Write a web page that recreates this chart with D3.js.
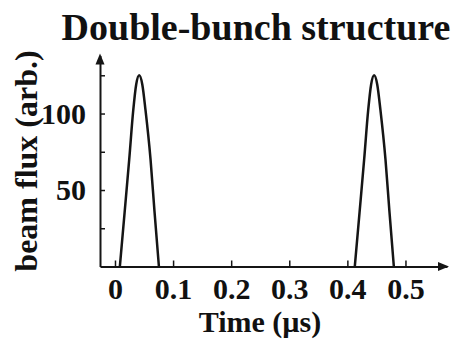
<!DOCTYPE html>
<html>
<head>
<meta charset="utf-8">
<script src="https://cdn.jsdelivr.net/npm/d3@7"></script>
<style>
  html, body { margin: 0; padding: 0; background: #fff; }
  svg { display: block; }
  text { font-family: "Liberation Serif", "Times New Roman", serif; font-weight: bold; fill: #111; }
</style>
</head>
<body>
<svg id="chart" width="464" height="341"></svg>
<script>
// Time samples (µs) and beam flux (arb.) for the two bunches
const bunch1Time = [0.0084, 0.0165, 0.0245, 0.0314, 0.0365, 0.0417, 0.0470, 0.0526, 0.0612, 0.0680, 0.0756];
const bunch1Flux = [0, 35, 70, 102, 119, 125, 119, 102, 70, 36, 0];
const bunch2Time = [0.4128, 0.4209, 0.4289, 0.4358, 0.4409, 0.4461, 0.4514, 0.4570, 0.4656, 0.4724, 0.4800];
const bunch2Flux = [0, 35, 70, 102, 119, 125, 119, 102, 70, 36, 0];

// Axis ticks
const xTicks = [0, 0.1, 0.2, 0.3, 0.4, 0.5];
const yTicks = [25, 50, 75, 100, 125];
const yLabelled = [50, 100];

const title = "Double-bunch structure";
const xTitle = "Time (µs)";
const yTitle = "beam flux (arb.)";

const svg = d3.select("#chart");

const x = d3.scaleLinear().domain([-0.0258, 0.5715]).range([100, 447]);
const y = d3.scaleLinear().domain([0, 138]).range([266.5, 55.4]);

const ink = "#151515";

// x axis
const gx = svg.append("g")
  .attr("transform", `translate(0,${y(0)})`)
  .call(d3.axisBottom(x)
    .tickValues(xTicks)
    .tickSizeInner(-6)
    .tickSizeOuter(0)
    .tickPadding(11)
    .tickFormat(d3.format("")));
gx.select(".domain").attr("stroke", ink).attr("stroke-width", 2);
gx.selectAll(".tick line").attr("stroke", ink).attr("stroke-width", 1.5);
gx.selectAll(".tick text").attr("font-size", 30).attr("fill", ink)
  .style("font-family", "'Liberation Serif', serif").style("font-weight", "bold");

// y axis
const gy = svg.append("g")
  .attr("transform", `translate(${x.range()[0]},0)`)
  .call(d3.axisLeft(y)
    .tickValues(yTicks)
    .tickSizeInner(-5)
    .tickSizeOuter(0)
    .tickPadding(14)
    .tickFormat(d => yLabelled.includes(d) ? String(d) : ""));
gy.select(".domain").attr("stroke", ink).attr("stroke-width", 2);
gy.selectAll(".tick line").attr("stroke", ink).attr("stroke-width", 1.5);
gy.selectAll(".tick text").attr("font-size", 30).attr("fill", ink)
  .style("font-family", "'Liberation Serif', serif").style("font-weight", "bold");

// arrowheads at the open ends of both axes
const xEnd = x.range()[1], yEnd = y.range()[1];
svg.append("path")
  .attr("d", `M${xEnd + 2},${y(0)} L${xEnd - 9},${y(0) - 4.5} L${xEnd - 9},${y(0) + 4.5} Z`)
  .attr("fill", ink);
svg.append("path")
  .attr("d", `M${x.range()[0]},${yEnd - 2} L${x.range()[0] - 4.5},${yEnd + 9} L${x.range()[0] + 4.5},${yEnd + 9} Z`)
  .attr("fill", ink);

// bunch profiles
const line = d3.line()
  .x(d => x(d[0]))
  .y(d => y(d[1]))
  .curve(d3.curveMonotoneX);

[[bunch1Time, bunch1Flux], [bunch2Time, bunch2Flux]].forEach(([t, f]) => {
  svg.append("path")
    .datum(d3.zip(t, f))
    .attr("d", line)
    .attr("fill", "none")
    .attr("stroke", ink)
    .attr("stroke-width", 2.5)
    .attr("stroke-linejoin", "round");
});

// titles
svg.append("text")
  .attr("x", 256).attr("y", 40)
  .attr("text-anchor", "middle")
  .attr("font-size", 38)
  .text(title);

svg.append("text")
  .attr("x", 260).attr("y", 332)
  .attr("text-anchor", "middle")
  .attr("font-size", 30)
  .text(xTitle);

svg.append("text")
  .attr("transform", "translate(37,161) rotate(-90)")
  .attr("text-anchor", "middle")
  .attr("font-size", 32)
  .text(yTitle);
</script>
</body>
</html>
